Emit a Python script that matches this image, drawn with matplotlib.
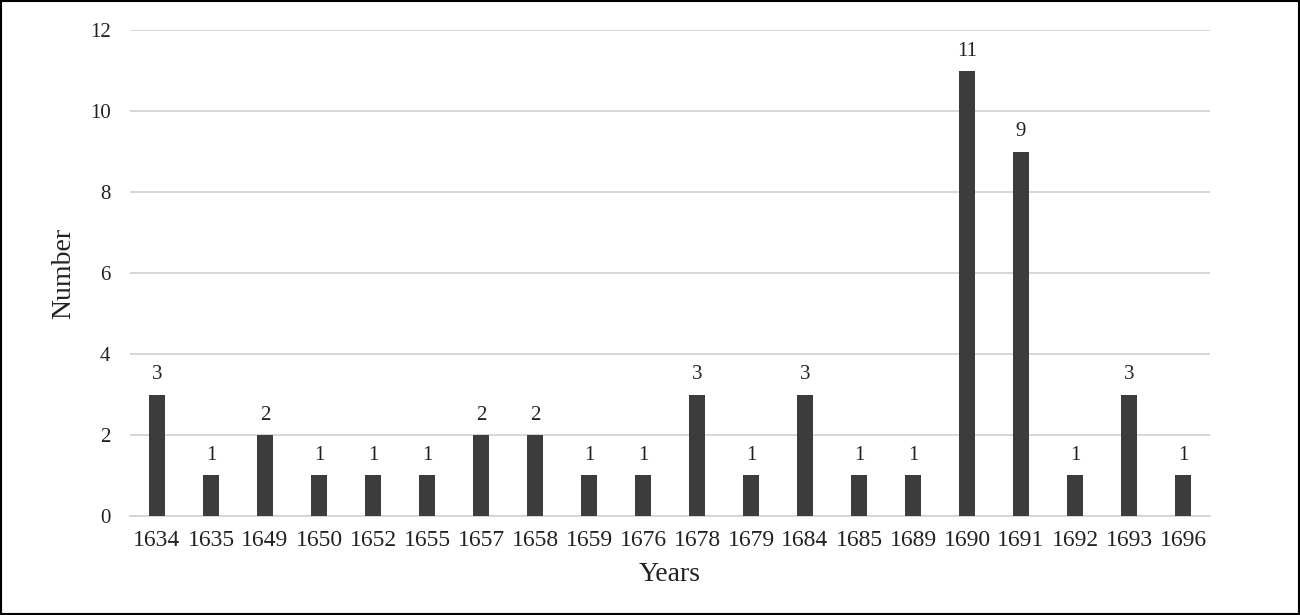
import matplotlib
matplotlib.use("Agg")
import matplotlib.pyplot as plt
from matplotlib.patches import Rectangle

years = ["1634","1635","1649","1650","1652","1655","1657","1658","1659","1676",
         "1678","1679","1684","1685","1689","1690","1691","1692","1693","1696"]
counts = [3,1,2,1,1,1,2,2,1,1,3,1,3,1,1,11,9,1,3,1]

plt.rcParams['font.family'] = ['Liberation Serif', 'DejaVu Serif']
fig = plt.figure(figsize=(13, 6.15), dpi=100)
ax = fig.add_axes([0.1, 0.161, 0.8308, 0.79])
x = range(len(years))
ax.bar(x, counts, width=0.31, color='#3c3c3c', zorder=3)
for xi, v in zip(x, counts):
    ax.text(xi, v + 0.25, str(v), ha='center', va='bottom', fontsize=15, color='#222222')
ax.set_xlim(-0.5, len(years) - 0.5)
ax.set_ylim(0, 12)
ax.set_yticks(range(0, 13, 2))
ax.set_xticks(list(x))
ax.set_xticklabels(years)
ax.tick_params(axis='both', length=0, colors='#222222')
ax.tick_params(axis='x', pad=10, labelsize=17)
ax.tick_params(axis='y', pad=14, labelsize=15)
ax.grid(axis='y', color='#d0d0d0', linewidth=1.2, zorder=0)
for s in ['top', 'right', 'left']:
    ax.spines[s].set_visible(False)
ax.spines['bottom'].set_color('#d0d0d0')
ax.spines['bottom'].set_linewidth(1.2)
ax.set_xlabel('Years', fontsize=20, labelpad=8, color='#222222')
ax.set_ylabel('Number', fontsize=20, labelpad=10, color='#222222')
fig.patches.append(Rectangle((0.001, 0.002), 0.998, 0.996, transform=fig.transFigure,
                             fill=False, edgecolor='black', linewidth=1.5))
fig.savefig('out.png', dpi=100)
